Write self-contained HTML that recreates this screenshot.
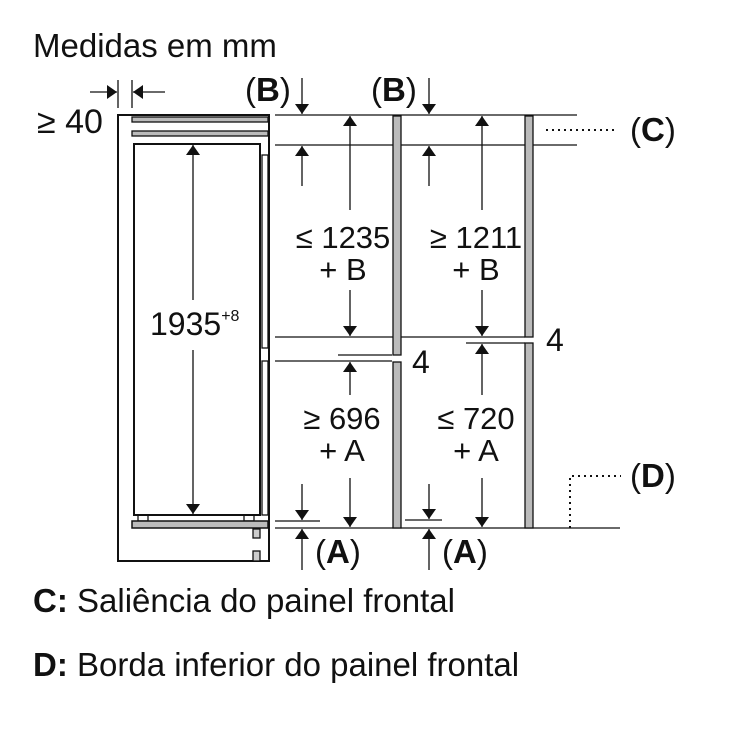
<!DOCTYPE html>
<html><head><meta charset="utf-8"><style>
body{margin:0;background:#fff}
svg{display:block}
text{font-family:"Liberation Sans",sans-serif;fill:#111}
</style></head><body>
<svg width="750" height="750" viewBox="0 0 750 750" xmlns="http://www.w3.org/2000/svg">
<defs>
<marker id="b" viewBox="0 0 10 14" refX="10" refY="7" markerWidth="10" markerHeight="14" markerUnits="userSpaceOnUse" orient="auto"><path d="M0,0L10,7L0,14z" fill="#111"/></marker>
</defs>
<g stroke="#111" fill="none" stroke-width="1.3">
<rect x="118" y="115" width="151" height="446" stroke-width="2"/>
<rect x="132" y="117" width="136" height="5" fill="#bbb"/>
<rect x="132" y="131" width="136" height="5" fill="#bbb"/>
<rect x="134" y="144" width="126" height="371" stroke-width="2"/>
<rect x="262" y="155" width="6" height="193" fill="#fff"/>
<rect x="262" y="361" width="6" height="154" fill="#fff"/>
<rect x="138" y="515" width="10" height="6"/>
<rect x="244" y="515" width="10" height="6"/>
<rect x="132" y="521" width="136" height="7" fill="#bbb" stroke-width="1.5"/>
<rect x="253" y="529" width="7" height="9" fill="#ccc"/>
<rect x="253" y="551" width="7" height="10" fill="#ccc"/>
<line x1="118" y1="80" x2="118" y2="108"/>
<line x1="132" y1="80" x2="132" y2="108"/>
<line x1="90" y1="92" x2="117" y2="92" marker-end="url(#b)"/>
<line x1="165" y1="92" x2="133" y2="92" marker-end="url(#b)"/>
<line x1="193" y1="300" x2="193" y2="145" marker-end="url(#b)"/>
<line x1="193" y1="350" x2="193" y2="514" marker-end="url(#b)"/>
<line x1="275" y1="115" x2="577" y2="115"/>
<line x1="275" y1="145" x2="577" y2="145"/>
<line x1="275" y1="337" x2="525" y2="337"/>
<line x1="338" y1="355" x2="392" y2="355"/>
<line x1="275" y1="361" x2="392" y2="361"/>
<line x1="466" y1="343" x2="525" y2="343"/>
<line x1="275" y1="521" x2="320" y2="521"/>
<line x1="405" y1="520" x2="442" y2="520"/>
<line x1="275" y1="528" x2="620" y2="528"/>
<rect x="393" y="116" width="8" height="239" fill="#bbb"/>
<rect x="393" y="362" width="8" height="166" fill="#bbb"/>
<rect x="525" y="116" width="8" height="221" fill="#bbb"/>
<rect x="525" y="343" width="8" height="185" fill="#bbb"/>
<line x1="350" y1="210" x2="350" y2="116" marker-end="url(#b)"/>
<line x1="350" y1="290" x2="350" y2="336" marker-end="url(#b)"/>
<line x1="350" y1="395" x2="350" y2="362" marker-end="url(#b)"/>
<line x1="350" y1="478" x2="350" y2="527" marker-end="url(#b)"/>
<line x1="482" y1="210" x2="482" y2="116" marker-end="url(#b)"/>
<line x1="482" y1="290" x2="482" y2="336" marker-end="url(#b)"/>
<line x1="482" y1="395" x2="482" y2="344" marker-end="url(#b)"/>
<line x1="482" y1="478" x2="482" y2="527" marker-end="url(#b)"/>
<line x1="302" y1="78" x2="302" y2="114" marker-end="url(#b)"/>
<line x1="302" y1="186" x2="302" y2="146" marker-end="url(#b)"/>
<line x1="429" y1="78" x2="429" y2="114" marker-end="url(#b)"/>
<line x1="429" y1="186" x2="429" y2="146" marker-end="url(#b)"/>
<line x1="302" y1="484" x2="302" y2="520" marker-end="url(#b)"/>
<line x1="302" y1="570" x2="302" y2="529" marker-end="url(#b)"/>
<line x1="429" y1="484" x2="429" y2="519" marker-end="url(#b)"/>
<line x1="429" y1="570" x2="429" y2="529" marker-end="url(#b)"/>
<line x1="546" y1="130" x2="617" y2="130" stroke-dasharray="2 4" stroke-width="2"/>
<polyline points="570,528 570,476 621,476" stroke-dasharray="2 4" stroke-width="2"/>
</g>
<text x="33" y="57" font-size="33">Medidas em mm</text>
<text x="37" y="133" font-size="34">≥ 40</text>
<text x="245" y="101" font-size="33">(<tspan font-weight="bold">B</tspan>)</text>
<text x="371" y="101" font-size="33">(<tspan font-weight="bold">B</tspan>)</text>
<text x="630" y="141" font-size="33">(<tspan font-weight="bold">C</tspan>)</text>
<text x="630" y="487" font-size="33">(<tspan font-weight="bold">D</tspan>)</text>
<text x="315" y="563" font-size="33">(<tspan font-weight="bold">A</tspan>)</text>
<text x="442" y="563" font-size="33">(<tspan font-weight="bold">A</tspan>)</text>
<g font-size="31" text-anchor="middle">
<text x="343" y="248">≤ 1235</text>
<text x="343" y="280">+ B</text>
<text x="476" y="248">≥ 1211</text>
<text x="476" y="280">+ B</text>
<text x="342" y="429">≥ 696</text>
<text x="342" y="461">+ A</text>
<text x="476" y="429">≤ 720</text>
<text x="476" y="461">+ A</text>
</g>
<text x="150" y="335" font-size="32">1935<tspan font-size="16" dy="-14">+8</tspan></text>
<text x="412" y="373" font-size="32">4</text>
<text x="546" y="351" font-size="32">4</text>
<text x="33" y="612" font-size="33"><tspan font-weight="bold">C:</tspan> Saliência do painel frontal</text>
<text x="33" y="676" font-size="33"><tspan font-weight="bold">D:</tspan> Borda inferior do painel frontal</text>
</svg>
</body></html>
